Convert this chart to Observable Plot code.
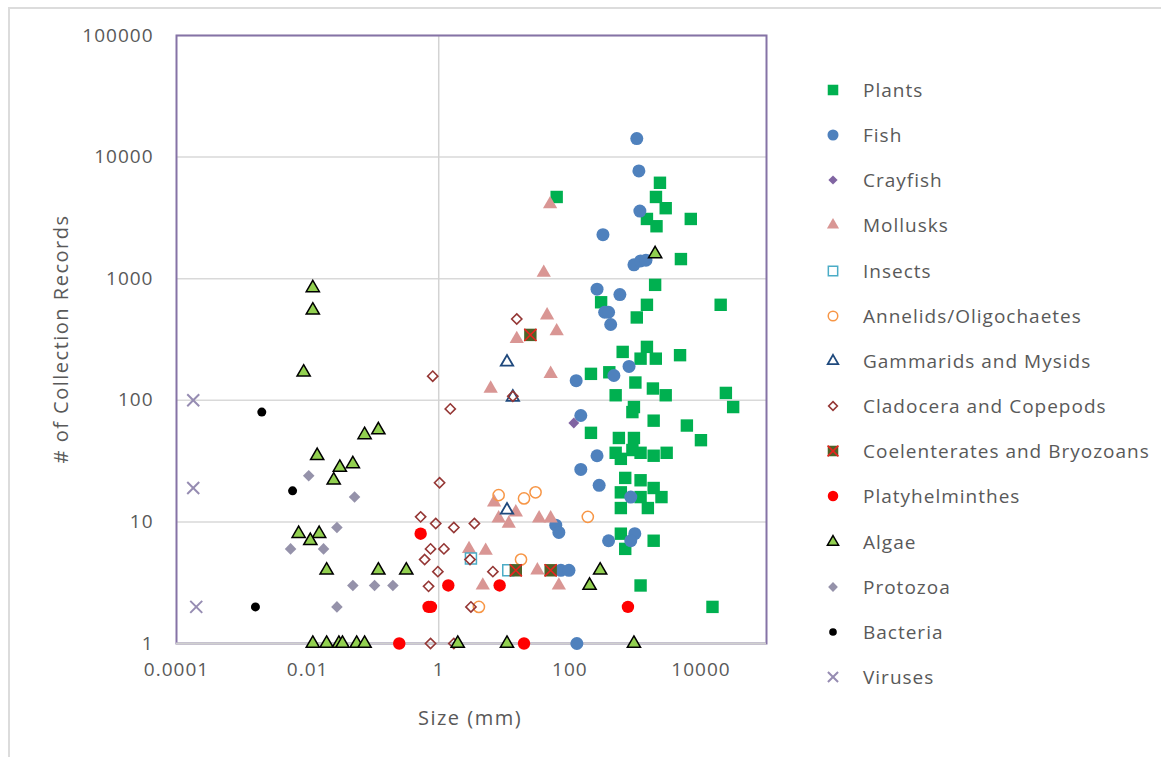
<!DOCTYPE html>
<html><head><meta charset="utf-8">
<script src="https://cdn.jsdelivr.net/npm/d3@7"></script>
<script src="https://cdn.jsdelivr.net/npm/@observablehq/plot@0.6"></script>
<style>
body{margin:0;background:#fff;font-family:"Open Sans",sans-serif;}
#wrap{position:relative;width:1161px;height:757px;overflow:hidden;background:#fff;}
#border{position:absolute;left:8px;top:7px;width:1300px;height:900px;border-top:2px solid #dcdcdc;border-left:2px solid #dcdcdc;}
#chart{position:absolute;left:0;top:0;}
.lab{position:absolute;color:#595959;font-size:20px;letter-spacing:1.5px;white-space:nowrap;}
#ylab{left:60px;top:339px;transform:translate(-50%,-50%) rotate(-90deg);}
#xlab{left:470px;top:717px;transform:translate(-50%,-50%);}
.leg{position:absolute;left:820px;height:24px;display:flex;align-items:center;color:#595959;font-size:19px;letter-spacing:1px;white-space:nowrap;}
.leg svg{width:26px;height:24px;margin-right:17px;}
</style></head><body>
<div id="wrap"><div id="border"></div><div id="chart"></div>
<div class="lab" id="ylab"># of Collection Records</div>
<div class="lab" id="xlab">Size (mm)</div>
<div id="legend"></div>
</div>
<script>
// Tick values
const xTicks = [0.0001, 0.01, 1, 100, 10000];
const yTicks = [1, 10, 100, 1000, 10000, 100000];

// Series values (size in mm, number of collection records)
const plantsX = [63,2370,2060,2900,1500,2100,7000,4950,2000,300,1500,1050,20000,640,1500,1200,2050,4800,210,400,1000,1850,2900,24000,31000,500,950,900,1900,6100,10000,210,560,950,500,900,600,1200,1900,3000,700,1200,600,1900,2500,1200,600,1550,600,1900,700,1200,15000];
const plantsY = [4700,6150,4700,3800,3100,2700,3100,1450,890,640,610,480,610,250,275,220,220,235,165,170,140,125,110,115,88,110,88,80,68,62,47,54,49,49,37,39,33,37,35,37,23,22,17.5,19,16,16,13,13,8,7,6,3,2];
const fishX = [1050,1130,1170,320,950,1200,1450,260,580,340,390,420,800,470,125,147,260,147,280,850,61,68,980,850,390,73,97,128];
const fishY = [14200,7700,3600,2300,1300,1400,1420,820,740,530,530,420,190,160,145,75,35,27,20,16,9.4,8.2,8,7,7,4,4,1];
const crayfishX = [115];
const crayfishY = [65];
const mollusksX = [50,40,45,63,15.5,51,6.2,7,8.2,11.7,15,34,51,2.9,5.2,4.7,32,68];
const mollusksY = [4100,1120,500,370,320,165,125,14.5,10.7,9.7,12,10.7,10.7,6,5.8,3,4,3];
const insectsX = [3.1,11.5];
const insectsY = [5,4];
const annelidsX = [8.2,20,30,18,4.1,188];
const annelidsY = [16.6,15.6,17.5,4.9,2,11];
const gammaridsX = [11,13.5,11];
const gammaridsY = [206,106,12.5];
const cladoceraX = [15.5,0.81,1.5,13.5,1.03,0.53,0.9,1.7,3.5,0.75,1.2,0.61,3,0.97,6.7,0.7,3.1,0.75,1.7];
const cladoceraY = [466,158,85,108,21,11,9.7,9,9.7,6,6,4.9,4.9,3.9,3.9,2.95,2,1,1];
const coelenteratesX = [25,15,51];
const coelenteratesY = [345,4,4];
const platyX = [0.53,1.4,8.5,0.7,0.76,0.25,20,770];
const platyY = [8,3,3,2,2,1,1,2];
const algaeX = [0.012,0.012,0.0087,0.12,0.074,0.014,0.049,0.031,0.025,0.0073,0.015,0.011,0.0195,0.12,0.32,0.012,0.0195,0.03,0.034,0.056,0.074,1.95,11,950,200,290,2000];
const algaeY = [840,550,170,57,52,35,30,28,22,8,8,7,4,4,4,1,1,1,1,1,1,1,1,1,3,4,1600];
const protozoaX = [0.0104,0.052,0.028,0.0055,0.0175,0.049,0.105,0.2,0.028];
const protozoaY = [24,16,9,6,6,3,3,3,2];
const bacteriaX = [0.002,0.0059,0.0016];
const bacteriaY = [80,18,2];
const virusesX = [0.00018,0.00018,0.0002];
const virusesY = [100,19,2];

const series = [
  {name:"Plants", x:plantsX, y:plantsY, symbol:"square", r:7, fill:"#00b050", stroke:"none", sw:0},
  {name:"Fish", x:fishX, y:fishY, symbol:"circle", r:6.5, fill:"#4f81bd", stroke:"none", sw:0},
  {name:"Crayfish", x:crayfishX, y:crayfishY, symbol:"diamond2", r:4.9, fill:"#8064a2", stroke:"none", sw:0},
  {name:"Mollusks", x:mollusksX, y:mollusksY, symbol:"triangle", r:5.3, fill:"#d99694", stroke:"none", sw:0},
  {name:"Insects", x:insectsX, y:insectsY, symbol:"square", r:6.2, fill:"none", stroke:"#4bacc6", sw:1.5},
  {name:"Annelids/Oligochaetes", x:annelidsX, y:annelidsY, symbol:"circle", r:5.6, fill:"none", stroke:"#f79646", sw:1.5},
  {name:"Gammarids and Mysids", x:gammaridsX, y:gammaridsY, symbol:"triangle", r:4.6, fill:"none", stroke:"#1f497d", sw:1.8},
  {name:"Cladocera and Copepods", x:cladoceraX, y:cladoceraY, symbol:"diamond2", r:4.6, fill:"none", stroke:"#953735", sw:1.6},
  {name:"Coelenterates and Bryozoans", x:coelenteratesX, y:coelenteratesY, symbol:"square", r:7, fill:"#4f6228", stroke:"none", sw:0, cross:"#e8231f"},
  {name:"Platyhelminthes", x:platyX, y:platyY, symbol:"circle", r:6.2, fill:"#ff0000", stroke:"none", sw:0},
  {name:"Algae", x:algaeX, y:algaeY, symbol:"triangle", r:4.9, fill:"#92d050", stroke:"#000", sw:1.5},
  {name:"Protozoa", x:protozoaX, y:protozoaY, symbol:"diamond2", r:5.2, fill:"#9592aa", stroke:"none", sw:0},
  {name:"Bacteria", x:bacteriaX, y:bacteriaY, symbol:"circle", r:4.5, fill:"#000", stroke:"none", sw:0},
  {name:"Viruses", x:virusesX, y:virusesY, symbol:"times", r:5.5, fill:"none", stroke:"#968cb2", sw:2}
];

const dotMarks = [];
for (const s of series) {
  const data = s.x.map((v, i) => ({x: v, y: s.y[i]}));
  dotMarks.push(Plot.dot(data, {x:"x", y:"y", symbol:s.symbol, r:s.r, fill:s.fill, stroke:s.stroke, strokeWidth:s.sw}));
  if (s.cross) dotMarks.push(Plot.dot(data, {x:"x", y:"y", symbol:"times", r:5.6, stroke:s.cross, strokeWidth:1.6}));
}

const chart = Plot.plot({
  width: 780, height: 757,
  marginLeft: 176, marginTop: 35, marginRight: 14, marginBottom: 114,
  x: {type:"log", domain:[1e-4, 1e5]},
  y: {type:"log", domain:[1, 1e5]},
  style: {fontFamily:"Open Sans, sans-serif", fontSize:"19px", letterSpacing:"1px", color:"#595959", background:"transparent", overflow:"visible"},
  marks: [
    Plot.ruleY(yTicks, {stroke:"#d9d9d9", strokeWidth:1.5}),
    Plot.ruleX([1], {stroke:"#d3d3d3", strokeWidth:1.5}),
    Plot.frame({stroke:"#8573a6", strokeWidth:2}),
    Plot.ruleY([1], {stroke:"#d0d0d0", strokeWidth:2}),
    Plot.axisX({ticks:xTicks, tickSize:0, tickPadding:19, tickFormat:d => String(d), label:null}),
    Plot.axisY({ticks:yTicks, tickSize:0, tickPadding:23, tickFormat:d => String(d), label:null}),
    ...dotMarks
  ]
});
document.getElementById("chart").appendChild(chart);

// Legend
const symTypes = {square:d3.symbolSquare, circle:d3.symbolCircle, diamond2:d3.symbolDiamond2, triangle:d3.symbolTriangle, times:d3.symbolTimes};
const legend = document.getElementById("legend");
series.forEach((s, i) => {
  const row = document.createElement("div");
  row.className = "leg";
  row.style.top = (90 + i * 45.15 - 12) + "px";
  const k = 0.85;
  const p = d3.symbol(symTypes[s.symbol], Math.PI * (s.r*k) * (s.r*k))();
  let svg = `<svg viewBox="-13 -12 26 24"><path d="${p}" fill="${s.fill}" stroke="${s.stroke}" stroke-width="${s.sw}"/>`;
  if (s.cross) svg += `<path d="${d3.symbol(d3.symbolTimes, Math.PI*25)()}" fill="none" stroke="${s.cross}" stroke-width="1.6"/>`;
  svg += `</svg>`;
  row.innerHTML = svg + `<span>${s.name}</span>`;
  legend.appendChild(row);
});
</script>
</body></html>
